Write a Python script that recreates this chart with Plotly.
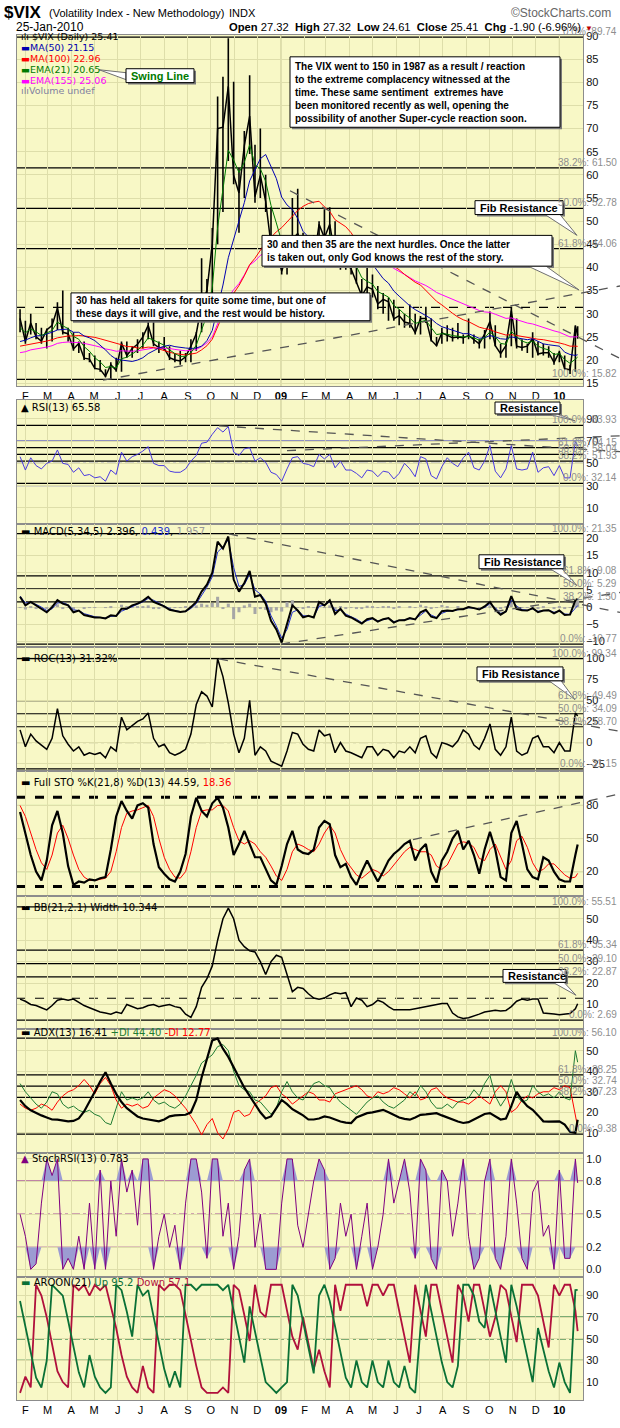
import plotly.graph_objects as go
import pandas as pd
import numpy as np

# ---------------- geometry (pixels of the 620x1428 page) ----------------
W, H = 620, 1428
L, R, T, B = 17, 583, 35, 1411


def PX(x):
    return (x - L) / (R - L)


def PY(y):
    return (B - y) / (B - T)


# ---------------- data (weekly readings) ----------------
dates = list(pd.date_range("2008-01-25", "2010-01-22", freq="W-FRI").strftime("%Y-%m-%d")) + ["2010-01-25"]

vix_close = [29.0, 24.0, 28.0, 25.0, 24.1, 26.5, 27.5, 31.2, 26.0, 25.7,
             22.4, 23.6, 20.4, 20.2, 18.2, 18.0, 16.5, 19.0, 17.8, 23.6,
             21.0, 22.5, 23.4, 25.0, 27.5, 23.5, 22.7, 22.5, 20.5, 20.0,
             19.8, 20.7, 23.0, 25.7, 32.0, 35.0, 45.1, 70.0, 70.3, 79.1,
             59.9, 56.1, 66.3, 72.7, 55.3, 59.9, 54.3, 44.9, 43.4, 39.2,
             42.8, 46.1, 47.3, 44.8, 43.4, 41.3, 49.3, 46.4, 49.3, 42.4,
             45.9, 40.9, 39.7, 37.0, 33.9, 35.8, 35.3, 32.1, 33.1, 32.6,
             28.9, 29.6, 28.2, 27.9, 25.9, 29.0, 29.0, 24.3, 23.1, 25.9,
             25.4, 24.8, 25.0, 24.8, 25.3, 24.4, 23.5, 25.6, 28.3, 23.1,
             21.4, 23.1, 30.7, 23.0, 22.7, 23.0, 24.7, 21.3, 21.6, 21.6,
             19.5, 21.7, 18.1, 17.9, 27.3, 25.41]
vix_high = [31.0, 28.5, 30.0, 28.0, 27.0, 26.8, 29.0, 32.5, 35.0, 27.0,
            26.0, 24.0, 24.0, 21.5, 21.0, 20.0, 18.0, 19.5, 20.5, 24.0,
            24.0, 23.0, 24.5, 26.0, 29.5, 30.0, 24.0, 25.0, 23.0, 21.5,
            22.0, 21.5, 24.5, 26.0, 42.0, 37.5, 48.5, 76.9, 81.2, 89.5,
            80.1, 61.5, 69.5, 81.5, 66.5, 70.0, 60.0, 53.0, 46.5, 44.5,
            43.5, 55.0, 57.0, 47.5, 46.5, 47.0, 50.0, 52.6, 53.0, 50.0,
            46.5, 43.5, 44.0, 42.0, 37.5, 40.0, 38.5, 36.0, 34.5, 33.5,
            33.0, 31.0, 30.0, 32.0, 30.0, 29.5, 31.5, 29.0, 25.0, 27.0,
            27.5, 27.0, 28.0, 25.5, 29.0, 25.5, 24.5, 26.5, 30.5, 27.5,
            23.5, 24.0, 31.5, 29.0, 24.5, 23.5, 26.0, 24.0, 23.5, 23.0,
            21.5, 22.0, 21.0, 19.0, 27.5, 27.32]
vix_low = [26.0, 23.5, 25.5, 24.5, 23.5, 22.5, 24.0, 26.5, 25.5, 24.0,
           22.0, 21.5, 20.0, 19.5, 18.0, 17.5, 16.3, 15.8, 17.5, 17.5,
           20.5, 20.5, 21.5, 22.5, 24.5, 23.0, 21.5, 22.0, 20.0, 19.5,
           19.0, 19.5, 19.5, 22.0, 26.0, 30.0, 33.0, 45.0, 52.0, 63.0,
           58.0, 47.5, 55.0, 64.5, 54.0, 55.0, 52.0, 44.5, 42.5, 38.5,
           38.5, 43.0, 44.0, 40.5, 42.0, 40.5, 41.0, 44.5, 45.5, 41.5,
           39.5, 39.5, 38.5, 36.5, 33.5, 34.5, 33.5, 31.0, 30.0, 28.5,
           28.5, 27.5, 27.0, 27.0, 25.5, 25.5, 28.0, 24.0, 23.0, 23.5,
           24.0, 24.0, 24.5, 23.5, 24.5, 23.5, 22.5, 22.5, 24.5, 23.0,
           20.5, 20.5, 23.0, 22.5, 22.0, 21.5, 20.5, 21.0, 21.0, 20.5,
           19.0, 19.5, 18.0, 17.0, 17.5, 24.61]
ema21 = [27.0, 25.9, 26.7, 26.1, 25.3, 25.8, 26.4, 28.2, 27.4, 26.8,
         25.1, 24.5, 22.9, 21.9, 20.5, 19.6, 18.4, 18.6, 18.3, 20.3,
         20.6, 21.3, 22.1, 23.2, 24.8, 24.3, 23.7, 23.2, 22.2, 21.4,
         20.8, 20.8, 21.6, 23.2, 26.5, 29.7, 35.6, 48.7, 56.9, 65.3,
         63.2, 60.5, 62.7, 66.5, 62.2, 61.3, 58.6, 53.4, 49.6, 45.6,
         44.5, 45.1, 45.9, 45.5, 44.7, 43.4, 45.6, 45.9, 47.2, 45.4,
         45.6, 43.8, 42.2, 40.2, 37.8, 37.0, 36.4, 34.8, 34.2, 33.6,
         31.8, 31.0, 29.9, 29.1, 27.9, 28.3, 28.6, 27.0, 25.5, 25.7,
         25.6, 25.3, 25.2, 25.0, 25.1, 24.8, 24.3, 24.8, 26.1, 25.0,
         23.6, 23.4, 26.2, 25.0, 24.1, 23.7, 24.1, 23.0, 22.5, 22.2,
         21.2, 21.4, 20.1, 19.3, 20.2, 20.65]
ma50 = [24.0, 24.3, 24.8, 25.2, 25.3, 25.6, 26.0, 26.5, 26.6, 26.7,
        26.0, 26.0, 25.2, 24.8, 24.2, 23.3, 22.2, 21.0, 20.2, 20.0,
        19.8, 19.7, 20.0, 20.5, 21.4, 22.0, 22.6, 23.0, 23.2, 22.9,
        22.7, 22.6, 22.5, 22.6, 23.0, 24.2, 26.4, 31.2, 36.2, 42.1,
        46.1, 49.6, 54.0, 58.7, 61.0, 63.5, 64.4, 61.9, 59.2, 55.2,
        53.5, 52.5, 50.6, 47.8, 46.6, 44.8, 44.3, 44.4, 45.0, 45.3,
        45.6, 45.1, 44.3, 43.6, 42.6, 42.1, 40.7, 39.2, 37.6, 36.6,
        34.9, 33.8, 32.7, 31.7, 30.9, 30.3, 29.6, 28.9, 27.9, 27.2,
        26.8, 26.4, 26.0, 25.7, 25.7, 25.2, 24.7, 24.8, 25.3, 25.0,
        24.6, 24.5, 25.0, 24.8, 24.6, 24.4, 24.6, 24.1, 23.5, 23.3,
        23.1, 23.0, 21.7, 21.2, 21.0, 21.15]
ma100 = [23.0, 23.2, 23.5, 23.7, 23.9, 24.1, 24.4, 24.8, 25.0, 25.2,
         25.2, 25.3, 25.2, 25.1, 24.9, 24.6, 24.3, 24.0, 23.6, 23.3,
         22.9, 22.9, 22.6, 22.6, 22.8, 22.7, 22.4, 22.0, 21.7, 21.4,
         21.3, 21.1, 21.3, 21.5, 22.2, 23.1, 24.5, 27.1, 29.7, 32.5,
         34.4, 36.1, 38.2, 40.6, 42.0, 43.8, 45.4, 46.5, 47.7, 48.6,
         49.8, 51.1, 52.3, 53.2, 53.8, 54.1, 54.3, 53.1, 52.1, 50.3,
         49.6, 48.8, 47.5, 45.7, 44.6, 43.4, 42.5, 41.8, 41.3, 41.0,
         40.3, 39.5, 38.5, 37.7, 36.8, 36.2, 35.1, 34.0, 32.7, 31.9,
         30.9, 30.1, 29.3, 28.7, 28.3, 27.7, 27.1, 26.8, 26.6, 26.1,
         25.7, 25.4, 25.5, 25.3, 25.1, 24.8, 24.6, 24.5, 24.4, 24.2,
         23.9, 23.7, 23.4, 23.0, 23.0, 22.96]
ema155 = [21.6, 21.8, 22.2, 22.4, 22.5, 22.8, 23.1, 23.6, 23.8, 23.9,
          23.8, 23.8, 23.6, 23.4, 23.1, 22.8, 22.4, 22.2, 21.9, 22.0,
          21.9, 21.9, 22.0, 22.2, 22.5, 22.6, 22.6, 22.6, 22.5, 22.3,
          22.1, 22.0, 22.1, 22.3, 22.9, 23.7, 25.0, 27.8, 30.5, 33.5,
          35.2, 36.5, 38.4, 40.5, 41.4, 42.6, 43.3, 43.4, 43.4, 43.1,
          43.1, 43.3, 43.6, 43.7, 43.7, 43.6, 44.0, 44.2, 44.5, 44.4,
          44.5, 44.3, 44.0, 43.6, 43.0, 42.6, 42.1, 41.5, 41.0, 40.5,
          39.8, 39.2, 38.5, 37.8, 37.1, 36.6, 36.1, 35.4, 34.6, 34.1,
          33.6, 33.1, 32.6, 32.1, 31.7, 31.2, 30.7, 30.4, 30.3, 29.9,
          29.4, 29.0, 29.1, 28.7, 28.3, 28.0, 27.8, 27.4, 27.0, 26.7,
          26.3, 26.0, 25.5, 25.0, 25.0, 25.06]
rsi = [56, 44, 55, 48, 45, 50, 52, 62, 50, 49,
       42, 46, 39, 40, 37, 38, 34, 44, 40, 60,
       52, 56, 58, 61, 65, 50, 48, 48, 43, 42,
       42, 45, 52, 57, 68, 69, 76, 82, 78, 83,
       60, 57, 63, 64, 52, 55, 51, 42, 40, 34,
       45, 55, 56, 50, 49, 47, 58, 54, 58, 46,
       52, 44, 44, 41, 37, 44, 43, 38, 43, 42,
       36, 41, 50, 45, 38, 56, 54, 39, 36, 47,
       55, 50, 47, 55, 60, 46, 44, 52, 66, 43,
       37, 45, 66, 45, 44, 45, 60, 42, 46, 47,
       39, 48, 37, 37, 70, 65.58]
macd = [3.0, 0.5, 1.5, 0.5, -0.5, -1.5, 0.0, 2.0, 1.0, 0.5,
        -1.5, -1.0, -2.3, -2.6, -3.0, -3.0, -3.3, -2.4, -2.6, -0.5,
        -0.5, 0.5, 1.0, 1.8, 3.0, 1.5, 0.8, 0.2, -0.8, -1.2,
        -1.4, -1.2, 0.0, 1.5, 4.5, 6.5, 10.0, 19.0, 17.0, 20.5,
        8.0, 4.5, 7.0, 10.5, 3.0, 3.5, 1.0, -4.0, -6.5, -10.3,
        -5.0, 0.5, -1.0, -3.0, -2.5, -3.0, 1.5, 0.5, 2.0, -2.0,
        -0.5, -2.5, -3.0, -3.8, -4.8, -3.5, -3.2, -4.2, -3.5, -3.2,
        -4.5, -3.8, -3.8, -3.2, -3.6, -1.5, -0.8, -2.8, -3.2, -1.2,
        -1.0, -1.1, -0.6, -0.6, 0.0, -0.3, -0.7, 0.2, 1.5, -0.8,
        -2.2, -1.2, 3.2, -0.5, -0.9, -1.0, -0.3, -1.5, -1.0, -0.9,
        -1.8, -1.0, -2.3, -2.2, 2.0, 2.396]
macd_signal = [3.2, 1.2, 1.3, 0.8, 0.0, -1.0, -0.5, 1.2, 1.3, 0.7,
               -0.8, -1.0, -1.9, -2.4, -2.8, -3.0, -3.2, -2.7, -2.6, -1.2,
               -0.6, 0.1, 0.8, 1.5, 2.5, 2.0, 1.1, 0.4, -0.5, -1.0,
               -1.3, -1.3, -0.4, 1.0, 3.5, 5.8, 8.8, 16.0, 17.5, 19.5,
               11.5, 6.0, 6.5, 9.5, 5.0, 3.8, 1.8, -2.5, -5.5, -9.0,
               -6.5, -1.5, -0.8, -2.5, -2.6, -2.9, 0.2, 0.6, 1.5, -1.0,
               -0.8, -2.0, -2.8, -3.5, -4.5, -3.9, -3.4, -4.0, -3.7, -3.3,
               -4.2, -4.0, -3.8, -3.4, -3.5, -2.2, -1.1, -2.3, -3.0, -1.8,
               -1.2, -1.1, -0.8, -0.6, -0.2, -0.3, -0.6, -0.1, 1.0, -0.2,
               -1.8, -1.4, 2.0, 0.3, -0.7, -0.9, -0.5, -1.2, -1.1, -0.9,
               -1.5, -1.2, -2.0, -2.1, -0.3, 0.439]
macd_hist = [-0.2, -0.7, 0.2, -0.3, -0.5, -0.5, 0.5, 0.8, -0.3, -0.2,
             -0.7, 0.0, -0.4, -0.2, -0.2, 0.0, -0.1, 0.3, 0.0, 0.7,
             0.1, 0.4, 0.2, 0.3, 0.5, -0.5, -0.3, -0.2, -0.3, -0.2,
             -0.1, 0.1, 0.4, 0.5, 1.0, 0.7, 1.2, 3.0, -0.5, 1.0,
             -3.5, -1.5, 0.5, 1.0, -2.0, -0.3, -0.8, -1.5, -1.0, -1.3,
             1.5, 2.0, -0.2, -0.5, 0.1, -0.1, 1.3, -0.1, 0.5, -1.0,
             0.3, -0.5, -0.2, -0.3, -0.3, 0.4, 0.2, -0.2, 0.2, 0.1,
             -0.3, 0.2, 0.0, 0.2, -0.1, 0.7, 0.3, -0.5, -0.2, 0.6,
             0.2, 0.0, 0.2, 0.0, 0.2, 0.0, -0.1, 0.3, 0.5, -0.6,
             -0.4, 0.2, 1.2, -0.8, -0.2, -0.1, 0.2, -0.3, 0.1, 0.0,
             -0.3, 0.2, -0.3, -0.1, 1.5, 1.957]
roc = [15, -5, 10, 2, -3, -8, 5, 40, 8, -2,
       -10, -5, -15, -12, -14, -12, -18, -5, -10, 30,
       15, 20, 25, 28, 35, 5, -5, -2, -12, -15,
       -12, -8, 10, 45, 60, 55, 42, 99, 78, 47,
       10, -12, 5, 50, -15, -5, -10, -22, -25, -28,
       -10, 12, 10, -2, -8, -10, 15, 8, 10, -12,
       0, -10, -12, -15, -18, -5, -5, -15, -8, -10,
       -18, -10, -12, -5, -12, 5, 8, -12, -18, 0,
       -2, -5, 2, 15, 10, -3, -8, 5, 22, -8,
       -15, -5, 30, -10, -15, -12, 5, 8, -5, -5,
       -12, 0, -10, -10, 35, 31.32]
sto_k = [74, 55, 35, 20, 12, 30, 62, 75, 55, 25,
         8, 11, 10, 13, 12, 14, 15, 40, 70, 84,
         75, 68, 80, 82, 78, 45, 24, 18, 13, 11,
         20, 36, 70, 87, 75, 70, 82, 87, 78, 60,
         35, 45, 57, 45, 33, 33, 22, 12, 8, 25,
         45, 57, 40, 37, 36, 40, 60, 66, 63, 35,
         24, 27, 15, 8, 20, 30, 20, 11, 20, 30,
         36, 40, 45, 48, 30, 40, 45, 20, 10, 30,
         38, 50, 57, 40, 48, 35, 18, 40, 56, 40,
         15, 12, 55, 66, 45, 22, 15, 13, 33, 30,
         20, 13, 11, 11, 35, 44.59]
sto_d = [80, 70, 55, 40, 28, 22, 35, 55, 62, 50,
         35, 22, 15, 12, 12, 13, 14, 20, 38, 60,
         73, 75, 76, 78, 80, 70, 50, 33, 22, 15,
         14, 20, 38, 60, 75, 76, 76, 80, 80, 75,
         60, 48, 45, 48, 45, 38, 33, 25, 16, 12,
         22, 38, 45, 43, 40, 38, 45, 55, 62, 55,
         40, 30, 24, 17, 14, 18, 22, 20, 16, 20,
         26, 33, 38, 42, 40, 38, 38, 35, 25, 22,
         26, 35, 45, 47, 46, 42, 32, 30, 40, 45,
         33, 22, 30, 48, 52, 42, 28, 20, 22, 27,
         27, 22, 17, 14, 15, 18.36]
bb_width = [12.5, 11.5, 10.0, 9.5, 8.5, 7.5, 9.5, 12.0, 12.5, 12.0,
            12.5, 11.0, 9.5, 8.5, 7.5, 6.5, 6.0, 5.5, 6.5, 5.8,
            10.0, 9.0, 8.0, 8.5, 9.5, 10.0, 9.0, 9.5, 10.0, 9.0,
            8.5, 5.5, 4.0, 9.0, 18.0, 22.0, 28.0, 40.0, 50.0, 55.0,
            50.0, 40.0, 37.0, 35.0, 34.5, 30.0, 24.0, 30.0, 33.0, 32.0,
            24.0, 16.0, 18.0, 17.5, 15.0, 13.0, 12.5, 13.0, 14.5, 15.5,
            15.0, 15.5, 9.0, 13.0, 12.0, 9.0, 10.0, 12.0, 11.0, 9.0,
            7.5, 7.5, 7.3, 7.5, 8.0, 8.5, 9.0, 9.5, 10.0, 10.5,
            10.5, 6.0, 4.2, 3.5, 3.8, 4.5, 5.5, 6.5, 7.0, 7.3,
            7.0, 7.2, 9.0, 11.5, 12.5, 12.0, 12.5, 12.6, 6.0, 5.6,
            5.5, 5.2, 5.6, 5.8, 8.0, 10.344]
adx = [26, 23, 21, 19.6, 18.5, 17.5, 16.5, 16.4, 16, 15.6,
       15.8, 17, 20.4, 25, 30, 35, 39.5, 34, 29, 25,
       22, 20, 18, 17, 16.5, 16, 15.6, 16.5, 18, 18.5,
       18.8, 18.8, 20, 26, 37, 46, 55, 56, 51, 47,
       42, 37, 32, 28, 24, 20, 17, 18, 22, 26,
       24, 21.5, 20, 18.5, 16.5, 16.5, 17, 18, 17.5, 16.5,
       15.5, 15, 14.8, 17.5, 18.5, 19.6, 20, 20.5, 21.2, 20,
       18.8, 17.5, 16.8, 16.4, 17.5, 18.8, 19, 19.2, 19.6, 18.5,
       17.5, 16.4, 15.5, 14.8, 15.2, 16.5, 18, 19.2, 19.6, 18,
       16.5, 17, 23, 30, 26, 23, 21.2, 18.5, 15.6, 15.5,
       15.5, 15.6, 14, 10.5, 10, 16.41]
plus_di = [34, 30, 27, 24, 22, 25, 30, 29, 24, 22,
           23, 21, 20, 21, 19, 18, 15, 14, 22, 30,
           26, 27, 26, 27, 30, 26, 24, 25, 23, 22,
           24, 28, 33, 38, 44, 46, 48, 52, 53, 50,
           40, 33, 31, 30, 26, 25, 22, 19, 22, 30,
           35, 30, 27, 26, 30, 34, 35, 33, 32, 28,
           25, 23, 21, 19, 22, 25, 27, 28, 25, 23,
           22, 24, 26, 30, 28, 33, 30, 25, 22, 22,
           24, 22, 25, 26, 27, 31, 28, 34, 38, 28,
           23, 27, 36, 28, 25, 26, 33, 30, 28, 29,
           27, 30, 27, 26, 50, 44.40]
minus_di = [24, 22, 21, 22, 24, 23, 21, 25, 28, 30,
            31, 33, 36, 33, 29, 34, 37, 33, 26, 22,
            24, 23, 24, 22, 23, 27, 29, 31, 30, 28,
            25, 22, 18, 14, 9, 14, 17, 10, 7, 12,
            20, 21, 18, 19, 24, 26, 28, 32, 33, 29,
            27, 24, 26, 28, 30, 29, 26, 26, 25, 29,
            30, 31, 32, 33, 31, 28, 27, 30, 29, 30,
            32, 31, 29, 27, 30, 26, 27, 31, 32, 29,
            27, 26, 25, 25, 24, 26, 28, 26, 24, 30,
            33, 30, 20, 22, 26, 28, 27, 29, 30, 30,
            32, 31, 33, 32, 18, 12.77]
stoch_rsi = [0.5, 0.3, 0.0, 0.05, 0.6, 1.0, 0.85, 1.0, 0.0, 0.1,
             0.0, 0.3, 0.0, 0.6, 0.0, 0.9, 0.0, 0.8, 0.3, 1.0,
             0.7, 0.9, 0.4, 1.0, 1.0, 0.0, 0.3, 0.5, 0.2, 0.4,
             0.0, 0.6, 1.0, 1.0, 0.7, 0.1, 1.0, 1.0, 0.3, 0.6,
             0.0, 0.3, 0.9, 1.0, 0.2, 0.5, 0.0, 0.0, 0.0, 0.6,
             1.0, 1.0, 0.4, 0.2, 0.5, 0.8, 1.0, 0.9, 0.0, 0.1,
             0.6, 0.3, 0.5, 0.0, 0.3, 0.6, 0.0, 0.2, 0.5, 1.0,
             0.6, 0.8, 1.0, 0.7, 0.1, 1.0, 0.9, 0.1, 0.0, 0.9,
             0.8, 0.3, 0.6, 1.0, 0.3, 0.0, 0.1, 0.8, 1.0, 0.1,
             0.0, 0.3, 1.0, 0.6, 0.1, 0.0, 0.7, 0.8, 0.3, 0.4,
             0.0, 0.9, 0.1, 0.1, 1.0, 0.783]
aroon_up = [85, 62, 38, 14, 5, 30, 100, 95, 90, 67,
            43, 19, 5, 35, 15, 5, 0, 5, 100, 95,
            75, 52, 100, 90, 95, 70, 45, 22, 5, 20,
            5, 100, 100, 95, 100, 100, 100, 100, 95, 100,
            76, 52, 28, 80, 57, 33, 10, 5, 0, 5,
            10, 100, 90, 66, 42, 18, 90, 100, 85, 62,
            38, 14, 5, 30, 10, 5, 30, 10, 5, 30,
            10, 5, 25, 5, 0, 60, 100, 76, 52, 28,
            10, 5, 25, 100, 100, 90, 66, 60, 100, 76,
            52, 28, 100, 80, 56, 32, 10, 60, 40, 20,
            5, 28, 10, 0, 95, 95.2]
aroon_down = [0, 15, 5, 100, 90, 70, 45, 20, 10, 5,
              100, 95, 100, 90, 100, 95, 100, 80, 60, 35,
              15, 5, 0, 25, 5, 0, 100, 95, 100, 100,
              95, 72, 48, 25, 5, 0, 0, 0, 5, 0,
              100, 95, 72, 48, 100, 75, 70, 100, 100, 100,
              76, 52, 40, 70, 46, 22, 40, 20, 5, 100,
              76, 100, 100, 100, 100, 80, 100, 100, 90, 100,
              100, 76, 52, 28, 100, 76, 52, 100, 100, 76,
              52, 28, 100, 90, 66, 100, 100, 76, 52, 70,
              100, 95, 71, 47, 100, 100, 100, 90, 66, 42,
              100, 90, 100, 100, 76, 57.1]

# reference levels
main_fib = [89.74, 61.50, 52.78, 44.06, 15.82]
main_fib_text = ["0.0%: 89.74", "38.2%: 61.50", "50.0%: 52.78", "61.8%: 44.06", "100.0%: 15.82"]
main_support = 31.4
rsi_fib = [83.93, 64.15, 58.04, 51.93, 32.14]
rsi_fib_text = ["100.0%: 83.93", "61.8%: 64.15", "50.0%: 58.04", "38.2%: 51.93", "0.0%: 32.14"]
macd_fib = [21.35, 9.08, 5.29, 1.50, -10.77]
macd_fib_text = ["100.0%: 21.35", "61.8%: 9.08", "50.0%: 5.29", "38.2%: 1.50", "0.0%: -10.77"]
roc_fib = [99.34, 49.49, 34.09, 18.70, -31.15]
roc_fib_text = ["100.0%: 99.34", "61.8%: 49.49", "50.0%: 34.09", "38.2%: 18.70", "0.0%: -31.15"]
bb_fib = [55.51, 35.34, 29.10, 22.87, 2.69]
bb_fib_text = ["100.0%: 55.51", "61.8%: 35.34", "50.0%: 29.10", "38.2%: 22.87", "0.0%: 2.69"]
bb_resist = 12.9
adx_fib = [56.10, 38.25, 32.74, 27.23, 9.38]
adx_fib_text = ["100.0%: 56.10", "61.8%: 38.25", "50.0%: 32.74", "38.2%: 27.23", "0.0%: 9.38"]
sto_bands = [87.5, 6.5]

month_ticks = list(pd.date_range("2008-02-01", "2010-01-01", freq="MS").strftime("%Y-%m-%d"))
month_text = ["F", "M", "A", "M", "J", "J", "A", "S", "O", "N", "D", "<b>09</b>",
              "F", "M", "A", "M", "J", "J", "A", "S", "O", "N", "D", "<b>10</b>"]

for arr in [vix_close, vix_high, vix_low, ema21, ma50, ma100, ema155, rsi, macd, macd_signal,
            macd_hist, roc, sto_k, sto_d, bb_width, adx, plus_di, minus_di, stoch_rsi,
            aroon_up, aroon_down]:
    assert len(arr) == len(dates), len(arr)

# ---------------- panels ----------------
# (top px, bottom px, y-range, tickvals, ticktext)
panels = [
    (35, 389, [14.36, 90.21], list(range(15, 95, 5)), None),
    (403, 528, [-4.4, 106.7], [10, 30, 50, 70, 90], None),
    (528, 652, [-11.61, 24.12], [-10, -5, 0, 5, 10, 15, 20], None),
    (652, 777, [-33.7, 112.9], [-25, 0, 25, 50, 75, 100], None),
    (777, 903, [-2.2, 111.2], [20, 50, 80], None),
    (903, 1037, [-1.44, 60.6], [10, 20, 30, 40, 50], None),
    (1037, 1162, [0.19, 60.58], [10, 20, 30, 40, 50], None),
    (1162, 1287, [-0.069, 1.054], [0, 0.2, 0.5, 0.8, 1.0], ["0.0", "0.2", "0.5", "0.8", "1.0"]),
    (1287, 1411, [-6.6, 107.2], [10, 30, 50, 70, 90], None),
]

BG = "#F8F8C6"
GRID = "#DEDEAA"
BORDER = "#8C8C8C"
FONT = "Liberation Sans"
LFONT = "DejaVu Sans"

fig = go.Figure()
layout = dict(
    width=W, height=H, margin=dict(l=L, r=W - R, t=T, b=H - B),
    paper_bgcolor="white", plot_bgcolor=BG, showlegend=False,
    font=dict(family=FONT, size=11, color="black"),
)
for n, (top, bot, rng, tv, tt) in enumerate(panels, start=1):
    xs = "" if n == 1 else str(n)
    xa = dict(domain=[0, 1], anchor="y" + xs, type="date",
              range=["2008-01-21", "2010-02-01"],
              tickvals=month_ticks, ticktext=month_text,
              showticklabels=(n in (1, 9)), ticks="",
              tickfont=dict(family=FONT, size=11, color="black"),
              showgrid=True, gridcolor=GRID, gridwidth=1,
              showline=True, linecolor=BORDER, mirror=True, zeroline=False)
    if n > 1:
        xa["matches"] = "x"
    ya = dict(domain=[PY(bot), PY(top)], anchor="x" + xs, range=rng, side="right",
              tickvals=tv, ticks="", showgrid=True, gridcolor=GRID, gridwidth=1,
              showline=True, linecolor=BORDER, mirror=True, zeroline=False,
              tickfont=dict(family=FONT, size=11, color="#111"))
    if tt:
        ya["ticktext"] = tt
    layout["xaxis" + xs] = xa
    layout["yaxis" + xs] = ya
fig.update_layout(**layout)


def ax(n):
    s = "" if n == 1 else str(n)
    return dict(xaxis="x" + s, yaxis="y" + s)


def line(n, y, color, width=1, dash=None, name=None):
    fig.add_trace(go.Scatter(x=dates, y=y, mode="lines", name=name,
                             line=dict(color=color, width=width, dash=dash),
                             hoverinfo="skip", **ax(n)))


shapes = []


def hline(n, y, color="black", width=1, dash="solid", layer="below"):
    s = "" if n == 1 else str(n)
    shapes.append(dict(type="line", xref="x" + s + " domain", yref="y" + s,
                       x0=0, x1=1, y0=y, y1=y, layer=layer,
                       line=dict(color=color, width=width, dash=dash)))


# ---------------- panel 1 : price + averages ----------------
bx, by = [], []
for d, lo, hi in zip(dates, vix_low, vix_high):
    bx += [d, d, None]
    by += [lo, hi, None]
fig.add_trace(go.Scatter(x=bx, y=by, mode="lines", line=dict(color="black", width=1.6),
                         hoverinfo="skip", **ax(1)))
line(1, vix_close, "black", 1.5)
line(1, ema155, "#FF00FF", 1)
line(1, ma100, "#FF0000", 1)
line(1, ma50, "#0000B0", 1)
line(1, ema21, "#007A00", 1)
for v in main_fib:
    hline(1, v, "black", 1.2)
hline(1, main_support, "black", 1.2, "dash")

# ---------------- panel 2 : RSI ----------------
for v in rsi_fib:
    hline(2, v, "black", 1.2)
hline(2, 70, "#2020C0", 1)
hline(2, 30, "#2020C0", 1)
hline(2, 50, "#2020C0", 1, "dashdot")
line(2, rsi, "#4A3AE0", 1)

# ---------------- panel 3 : MACD ----------------
for v in macd_fib:
    hline(3, v, "black", 1.2)
fig.add_trace(go.Bar(x=dates, y=macd_hist, marker=dict(color="#A6A6A6", line=dict(width=0)),
                     width=4 * 86400000, hoverinfo="skip", **ax(3)))
line(3, macd_signal, "#2030D0", 1)
line(3, macd, "black", 2)

# ---------------- panel 4 : ROC ----------------
for v in roc_fib:
    hline(4, v, "black", 1.2)
hline(4, 0, "black", 1, "dashdot")
line(4, roc, "black", 1.5)

# ---------------- panel 5 : Full STO ----------------
hline(5, 80, "#008000", 1)
hline(5, 20, "#008000", 1)
hline(5, 50, "#008000", 1, "dashdot")
for v in sto_bands:
    hline(5, v, "black", 3, "dash")
line(5, sto_d, "#FF0000", 1)
line(5, sto_k, "black", 2.2)

# ---------------- panel 6 : BB width ----------------
for v in bb_fib:
    hline(6, v, "black", 1.2)
hline(6, bb_resist, "black", 1, "dash")
line(6, bb_width, "black", 1.5)

# ---------------- panel 7 : ADX ----------------
for v in adx_fib:
    hline(7, v, "black", 1.2)
line(7, minus_di, "#FF0000", 1)
line(7, plus_di, "#1E7B32", 1)
line(7, adx, "black", 2.2)

# ---------------- panel 8 : StochRSI ----------------
low_band = [0.2] * len(dates)
high_band = [0.8] * len(dates)
fig.add_trace(go.Scatter(x=dates, y=low_band, mode="lines", line=dict(width=0), hoverinfo="skip", **ax(8)))
fig.add_trace(go.Scatter(x=dates, y=np.minimum(stoch_rsi, 0.2), mode="lines", line=dict(width=0),
                         fill="tonexty", fillcolor="#9C9CD2", hoverinfo="skip", **ax(8)))
fig.add_trace(go.Scatter(x=dates, y=high_band, mode="lines", line=dict(width=0), hoverinfo="skip", **ax(8)))
fig.add_trace(go.Scatter(x=dates, y=np.maximum(stoch_rsi, 0.8), mode="lines", line=dict(width=0),
                         fill="tonexty", fillcolor="#9C9CD2", hoverinfo="skip", **ax(8)))
hline(8, 0.8, "#800080", 1)
hline(8, 0.2, "#800080", 1)
hline(8, 0.5, "#800080", 1, "dashdot")
line(8, stoch_rsi, "#800080", 1)

# ---------------- panel 9 : AROON ----------------
hline(9, 70, "#006020", 1.2)
hline(9, 30, "#006020", 1.2)
hline(9, 50, "#006020", 1.2, "dashdot")
line(9, aroon_down, "#B0103C", 1.8)
line(9, aroon_up, "#0A7036", 1.8)

# year separators
for n in range(1, 10):
    s = "" if n == 1 else str(n)
    for d in ["2009-01-01", "2010-01-01"]:
        shapes.append(dict(type="line", xref="x" + s, yref="y" + s + " domain", x0=d, x1=d,
                           y0=0, y1=1, layer="below", line=dict(color="#BDBD8C", width=1)))

# ---------------- hand-drawn trend lines (pixel positions) ----------------
trend = [
    ((103, 383), (620, 288)),
    ((290, 192), (620, 361)),
    ((219, 429), (620, 455)),
    ((287, 454), (620, 439)),
    ((229, 538), (620, 617)),
    ((281, 649), (620, 597)),
    ((219, 664), (620, 737)),
    ((413, 846), (620, 800)),
]
for (x0, y0), (x1, y1) in trend:
    shapes.append(dict(type="line", xref="paper", yref="paper", x0=PX(x0), y0=PY(y0),
                       x1=PX(x1), y1=PY(y1), layer="above",
                       line=dict(color="#555555", width=1.3, dash="dash")))

annotations = []


def text(x, y, s, size=11, color="black", anchor="left", family=FONT, yanchor="middle"):
    annotations.append(dict(xref="paper", yref="paper", x=PX(x), y=PY(y), text=s, showarrow=False,
                            xanchor=anchor, yanchor=yanchor, align=anchor if anchor != "center" else "center",
                            font=dict(size=size, color=color, family=family)))


# callouts: box (x0,y0,x1,y1), lines, tip point, base points on box
callouts = [
    ((290, 57, 560, 128), ["The VIX went to 150 in 1987 as a result / reaction",
                           "to the extreme complacency witnessed at the",
                           "time. These same sentiment  extremes have",
                           "been monitored recently as well, opening the",
                           "possibility of another Super-cycle reaction soon."], None, None, "black", 10),
    ((126, 69, 194, 83), ["Swing Line"], (99, 70), ((126, 73), (126, 80)), "#007A00", 11),
    ((475, 202, 563, 216), ["Fib Resistance"], (577, 237), ((545, 216), (560, 216)), "black", 11),
    ((262, 237, 552, 268), ["30 and then 35 are the next hurdles. Once the latter",
                            "is taken out, only God knows the rest of the story."], (579, 292),
     ((528, 268), (546, 268)), "black", 10),
    ((71, 295, 370, 323), ["30 has held all takers for quite some time, but one of",
                           "these days it will give, and the rest would be history."], None, None, "black", 10),
    ((495, 405, 560, 417), ["Resistance"], (575, 424), ((548, 417), (558, 417)), "black", 11),
    ((479, 559, 564, 573), ["Fib Resistance"], (577, 590), ((550, 573), (562, 573)), "black", 11),
    ((477, 672, 563, 686), ["Fib Resistance"], (575, 705), ((549, 686), (561, 686)), "black", 11),
    ((503, 977, 566, 990), ["Resistance"], (576, 1003), ((553, 990), (564, 990)), "black", 11),
]
for (x0, y0, x1, y1), lines, tip, base, col, fs in callouts:
    shapes.append(dict(type="rect", xref="paper", yref="paper", x0=PX(x0 + 2), y0=PY(y1 + 2),
                       x1=PX(x1 + 2), y1=PY(y0 + 2), fillcolor="#7A7A7A", line=dict(width=0), layer="above"))
    if tip:
        (bx0, by0), (bx1, by1) = base
        path = "M {} {} L {} {} L {} {} Z".format(PX(bx0), PY(by0), PX(tip[0]), PY(tip[1]), PX(bx1), PY(by1))
        shapes.append(dict(type="path", xref="paper", yref="paper", path=path, fillcolor="white",
                           line=dict(color="#707070", width=1), layer="above"))
    shapes.append(dict(type="rect", xref="paper", yref="paper", x0=PX(x0), y0=PY(y1), x1=PX(x1), y1=PY(y0),
                       fillcolor="white", line=dict(color="black", width=1), layer="above"))
    text(x0 + 3, (y0 + y1) / 2, "<b>" + "<br>".join(lines) + "</b>", size=fs, color=col)

# fib labels
fib_sets = [(1, main_fib, main_fib_text), (2, rsi_fib, rsi_fib_text), (3, macd_fib, macd_fib_text),
            (4, roc_fib, roc_fib_text), (6, bb_fib, bb_fib_text), (7, adx_fib, adx_fib_text)]
for n, vals, labs in fib_sets:
    s = "" if n == 1 else str(n)
    for v, lab in zip(vals, labs):
        annotations.append(dict(xref="paper", yref="y" + s, x=PX(619), y=v, text=lab, showarrow=False,
                                xanchor="right", yanchor="bottom", yshift=-2,
                                font=dict(size=10, color="#8E8E8E", family=FONT)))

# header
text(2, 12, "<b>$VIX</b>", size=17)
text(47, 13, "(Volatility Index - New Methodology)", size=11)
text(227, 13, "INDX", size=11)
text(613, 13, "©StockCharts.com", size=12, color="#666666", anchor="right")
text(14, 27, "25-Jan-2010", size=12)
text(583, 27, "<b>Open</b> 27.32  <b>High</b> 27.32  <b>Low</b> 24.61  <b>Close</b> 25.41  <b>Chg</b> -1.90 (-6.96%)",
     size=11.2, anchor="right")
text(589, 28, "▼", size=8, color="#C00000", anchor="center")

# legends
LS = 9.5
text(19, 37, "ılı $VIX (Daily) 25.41", size=LS, family=LFONT)
text(19, 48, "<span style='color:#0000B0'>▬MA(50) 21.15</span>", size=LS, family=LFONT)
text(19, 59, "<span style='color:#FF0000'>▬MA(100) 22.96</span>", size=LS, family=LFONT)
text(19, 70, "<span style='color:#007A00'>▬EMA(21) 20.65</span>", size=LS, family=LFONT)
text(19, 81, "<span style='color:#FF00FF'>▬EMA(155) 25.06</span>", size=LS, family=LFONT)
text(19, 91, "<span style='color:#8080A0'>ılıVolume undef</span>", size=LS, family=LFONT)
PS = 10
text(19, 411, "▲ RSI(13) 65.58", size=PS, family=LFONT)
text(19, 536, "▬ MACD(5,34,5) 2.396, <span style='color:#2030D0'>0.439</span>, "
     "<span style='color:#999999'>1.957</span>", size=PS, family=LFONT)
text(19, 664, "▬ ROC(13) 31.32%", size=PS, family=LFONT)
text(19, 789, "▬ Full STO %K(21,8) %D(13) 44.59, <span style='color:#FF0000'>18.36</span>", size=PS, family=LFONT)
text(19, 915, "▬ BB(21,2.1) Width 10.344", size=PS, family=LFONT)
text(19, 1041, "▬ ADX(13) 16.41 <span style='color:#1E7B32'>+DI 44.40</span> "
     "<span style='color:#FF0000'>-DI 12.77</span>", size=PS, family=LFONT)
text(19, 1168, "<span style='color:#800080'>▲</span> StochRSI(13) 0.783", size=PS, family=LFONT)
text(19, 1293, "<span style='color:#0A7036'>▬</span> AROON(21) <span style='color:#0A7036'>Up 95.2</span> "
     "<span style='color:#B0103C'>Down 57.1</span>", size=PS, family=LFONT)

fig.update_layout(shapes=shapes, annotations=annotations)
fig.write_html("out.html", config={"displayModeBar": False},
               post_script="document.body.style.margin='0px';document.body.style.overflow='hidden';")
